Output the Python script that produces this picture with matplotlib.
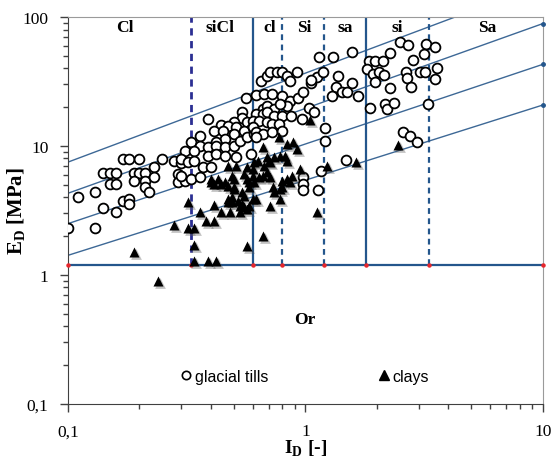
import numpy as np
import matplotlib.pyplot as plt
import matplotlib.transforms as mtransforms
from matplotlib.ticker import FixedLocator, FixedFormatter, NullFormatter
from matplotlib.lines import Line2D

plt.rcParams['font.family'] = 'Liberation Serif'
plt.rcParams['mathtext.fontset'] = 'custom'
plt.rcParams['mathtext.rm'] = 'Liberation Serif:bold'
plt.rcParams['mathtext.bf'] = 'Liberation Serif:bold'

# glacial tills (I_D, E_D)
tills_id = [0.10, 0.13, 0.11, 0.13, 0.14, 0.16, 0.17, 0.18, 0.18, 0.14, 0.15, 0.16, 0.15, 0.16,
            0.17, 0.18, 0.20, 0.19, 0.20, 0.19, 0.21, 0.21, 0.21, 0.22, 0.23, 0.23, 0.25, 0.28,
            0.30, 0.29, 0.29, 0.31, 0.32,
            0.62, 0.56, 0.39, 0.44, 0.54, 0.54, 0.50, 0.47, 0.41, 0.45, 0.51, 0.57, 0.59, 0.55,
            0.50, 0.46, 0.42, 0.36, 0.33, 0.36, 0.39, 0.42, 0.46, 0.50, 0.53, 0.57, 0.61, 0.31,
            0.34, 0.39, 0.42, 0.46, 0.51, 0.59, 0.30, 0.32, 0.34, 0.37, 0.40, 0.30, 0.33, 0.36,
            1.14, 0.65, 0.69, 0.71, 0.76, 0.80, 0.84, 0.92, 0.86, 1.06, 1.12, 1.19, 0.67, 0.72,
            0.80, 0.86, 0.93, 0.98, 0.84, 0.66, 0.69, 0.74, 0.78, 0.62, 0.66, 0.69, 0.74, 0.80,
            0.87, 0.97, 1.03, 1.09, 0.60, 0.64, 0.69, 0.72, 0.77, 0.60, 0.62, 0.66, 0.72, 0.80,
            0.62, 1.21, 1.21, 0.98, 0.98, 0.98, 1.13, 1.16, 1.48,
            1.31, 1.57, 1.37, 1.57, 1.34, 1.43, 1.50, 1.29, 1.66, 1.05,
            1.85, 1.96, 2.12, 2.27, 1.82, 1.92, 2.04, 2.14, 1.96, 2.27, 1.87, 2.16, 2.20, 2.36,
            2.50, 2.70, 2.84, 2.65, 2.68, 2.78, 3.03, 3.18, 3.22, 3.50, 3.16, 3.58, 3.50, 3.28,
            2.57, 2.75, 2.95]
tills_ed = [2.3, 2.3, 4.0, 4.4, 3.3, 3.1, 3.75, 3.9, 3.55, 6.2, 6.2, 6.2, 5.1, 5.1,
            7.9, 7.9, 7.9, 6.2, 6.2, 5.35, 6.2, 5.35, 4.8, 4.4, 6.9, 5.75, 7.9, 7.65,
            7.4, 6.1, 5.25, 5.35, 8.7,
            25.0, 23.5, 16.2, 14.5, 18.3, 16.5, 15.4, 14.3, 13.1, 13.1, 14.0, 15.4, 13.5, 13.1,
            12.4, 11.3, 10.7, 11.9, 10.7, 10.0, 9.8, 10.0, 9.8, 10.0, 10.9, 11.7, 12.4, 9.15,
            9.15, 8.4, 8.7, 8.4, 8.2, 8.7, 7.9, 7.5, 7.65, 6.9, 6.9, 5.85, 5.55, 5.75,
            49.0, 32.0, 35.0, 37.5, 37.5, 37.5, 35.0, 37.5, 32.0, 31.0, 34.0, 37.5, 25.3, 25.3,
            24.4, 22.3, 23.6, 26.0, 20.4, 19.4, 20.4, 19.4, 21.2, 17.7, 17.7, 18.3, 17.1, 17.1,
            17.1, 16.2, 19.7, 18.3, 15.6, 15.6, 15.4, 14.8, 14.8, 14.0, 12.8, 12.4, 12.8, 13.1,
            11.7, 13.8, 10.9, 5.75, 5.1, 4.55, 4.55, 6.4, 7.8,
            49.0, 53.5, 35.0, 31.0, 28.7, 26.0, 26.0, 24.4, 24.4, 32.5,
            45.6, 45.6, 45.6, 52.6, 39.5, 36.2, 37.5, 35.5, 31.3, 28.2, 19.7, 21.2, 19.4, 21.5,
            64.0, 60.7, 46.4, 37.5, 33.7, 28.7, 37.5, 37.5, 61.8, 58.5, 51.7, 40.2, 33.0, 21.2,
            12.8, 11.9, 10.7]

# clays (I_D, E_D)
clays_id = [0.19, 0.28, 0.24, 0.32, 0.36, 0.41, 0.38, 0.41, 0.44, 0.32, 0.34, 0.34, 0.34, 0.39,
            0.42, 0.57, 0.47, 0.49, 0.53, 0.54, 0.58, 0.41, 0.44, 0.47, 0.50, 0.54, 0.58, 0.77,
            0.84, 0.89, 0.92, 0.78, 0.82, 0.84, 0.74, 0.70, 0.66, 0.61, 0.63, 0.57, 0.60, 0.67,
            0.71, 0.47, 0.51, 0.40, 0.43, 0.46, 0.49, 0.55, 0.57, 0.60, 0.64, 0.71, 0.58, 0.61,
            0.80, 0.84, 0.86, 0.73, 0.78, 0.50, 0.55, 0.47, 0.49, 0.52, 0.53, 0.60, 0.62, 0.55,
            0.71, 0.78, 0.95, 1.04, 0.69, 0.69, 0.66, 0.88, 0.74, 0.80, 1.12, 0.66, 1.63, 1.23,
            2.45, 0.40, 0.50, 0.57, 0.48]
clays_ed = [1.5, 2.45, 0.9, 3.7, 3.1, 3.5, 2.6, 2.6, 3.1, 2.3, 2.3, 1.7, 1.28, 1.28,
            1.28, 1.68, 3.7, 3.7, 3.1, 3.55, 3.4, 5.1, 5.1, 4.9, 4.6, 4.4, 4.8, 11.7,
            10.4, 10.7, 9.5, 8.4, 8.4, 7.65, 8.2, 7.65, 9.8, 7.5, 7.65, 6.9, 6.6, 7.0,
            7.5, 7.0, 7.0, 5.55, 5.55, 5.25, 5.85, 6.1, 5.55, 5.85, 5.75, 5.75, 5.25, 5.25,
            5.35, 5.55, 5.25, 4.8, 4.65, 4.8, 4.1, 3.9, 4.0, 3.75, 3.4, 3.9, 3.9, 3.35,
            3.4, 3.9, 6.6, 15.9, 8.2, 6.3, 5.85, 5.85, 4.4, 4.8, 3.1, 2.0, 7.5, 7.0,
            10.2, 5.25, 5.55, 3.25, 3.1]

# classification boundaries
or_limit = 1.2
bounds_x = [0.33, 0.6, 0.8, 1.2, 1.8, 3.3]
bounds_dashed = [True, False, True, True, False, True]
# consistency lines: E_D at I_D = 0.1 and at I_D = 10
line_left = [7.5, 4.3, 2.5, 1.42]
line_right = [180.0, 89.0, 43.0, 20.8]

zones = ['Cl', 'siCl', 'cl', 'Si', 'sa', 'si', 'Sa']
zones_x = [0.174, 0.436, 0.709, 0.986, 1.47, 2.43, 5.81]

blue = '#24568c'
navy = '#2b2f93'

fig = plt.figure(figsize=(5.54, 4.64), dpi=100)
ax = fig.add_axes([0.1227, 0.1272, 0.8574, 0.834])
ax.set_xscale('log')
ax.set_yscale('log')
ax.set_xlim(0.1, 10)
ax.set_ylim(0.1, 100)

# diagonal lines
for yl, yr in zip(line_left, line_right):
    ax.plot([0.1, 10], [yl, yr], color='#3d6896', lw=1.0, zorder=2)
    if yr <= 100:
        ax.plot([10], [yr], 'o', color=blue, ms=2.5, zorder=3, clip_on=False)

# boundaries
ax.plot([0.1, 10], [or_limit, or_limit], color=blue, lw=1.6, zorder=2)
for bx, d in zip(bounds_x, bounds_dashed):
    col = navy if bx == 0.33 else blue
    lw = 2.0 if bx == 0.33 else 1.6
    ln, = ax.plot([bx, bx], [or_limit, 100], color=col, lw=lw, zorder=2)
    if d:
        ln.set_dashes((2.6, 2.0))
ax.plot([0.1] + bounds_x + [10], [or_limit] * 8, 'o', color='#e8262b', ms=2.2,
        zorder=3, clip_on=False)

# points
ax.scatter(tills_id, tills_ed, s=50, marker='o', facecolor='white', edgecolor='black',
           linewidth=1.3, zorder=4)
shadow = mtransforms.offset_copy(ax.transData, fig=fig, x=2.0, y=-2.0, units='dots')
ax.scatter(clays_id, clays_ed, s=60, marker='^', color='#555555', alpha=0.35,
           linewidth=0, zorder=5, transform=shadow)
ax.scatter(clays_id, clays_ed, s=52, marker='^', color='black', linewidth=0, zorder=6)

for z, zx in zip(zones, zones_x):
    ax.text(zx, 83, z, ha='center', va='center', fontsize=12.5, fontweight='bold')
ax.text(0.995, 0.456, 'Or', ha='center', va='center', fontsize=12.5, fontweight='bold')

# legend
h1 = Line2D([], [], marker='o', ls='none', mfc='white', mec='black', ms=6, mew=1.2)
h2 = Line2D([], [], marker='^', ls='none', color='black', ms=6.5)
leg = ax.legend([h1, h2], ['glacial tills', 'clays'], ncol=2, frameon=False,
                loc='center', bbox_to_anchor=(0.5, 0.072), handlelength=0.5,
                handletextpad=0.3, columnspacing=7.0,
                prop={'family': 'Liberation Sans', 'size': 11.5})

# axes styling
for s in ['top', 'right']:
    ax.spines[s].set_color('#9a9a9a')
for s in ['left', 'bottom']:
    ax.spines[s].set_color('#404040')
ax.xaxis.set_major_locator(FixedLocator([0.1, 1, 10]))
ax.xaxis.set_major_formatter(FixedFormatter(['0,1', '1', '10']))
ax.yaxis.set_major_locator(FixedLocator([0.1, 1, 10, 100]))
ax.yaxis.set_major_formatter(FixedFormatter(['0,1', '1', '10', '100']))
minors = [m * 10.0 ** e for e in [-1, 0, 1] for m in range(2, 10)]
ax.xaxis.set_minor_locator(FixedLocator(minors))
ax.yaxis.set_minor_locator(FixedLocator(minors))
ax.xaxis.set_minor_formatter(NullFormatter())
ax.yaxis.set_minor_formatter(NullFormatter())
ax.tick_params(which='major', direction='out', length=6, width=1, color='#404040',
               labelsize=12.5, pad=8)
ax.tick_params(which='minor', direction='out', length=3.5, width=1, color='#404040')

ax.set_ylabel(r'E$_\mathregular{D}$ [MPa]', fontsize=15, fontweight='bold')
ax.yaxis.set_label_coords(-0.085, 0.5)
ax.set_xlabel(r'I$_\mathregular{D}$ [-]', fontsize=14, fontweight='bold')
ax.xaxis.set_label_coords(0.5, -0.088)

fig.savefig('out.png', dpi=100)
